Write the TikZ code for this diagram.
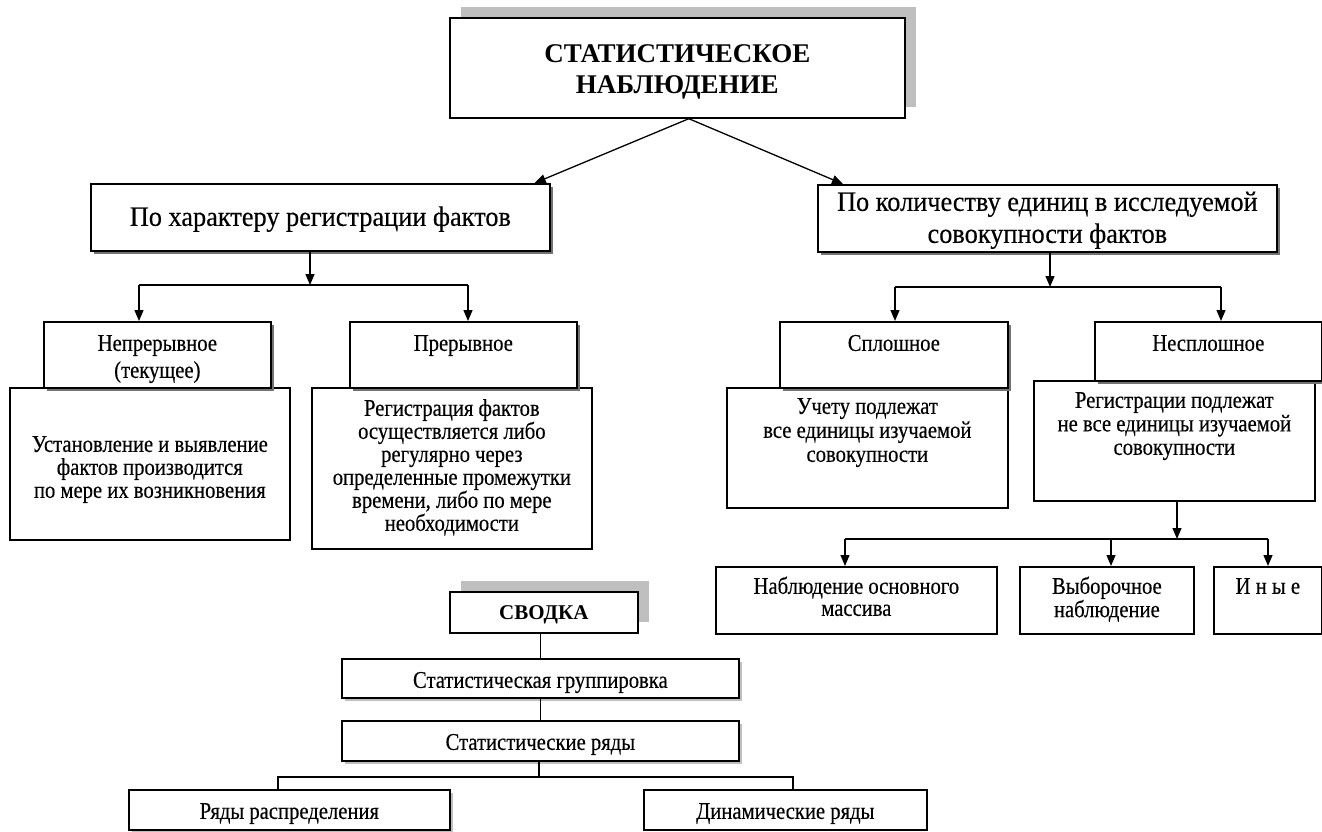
\documentclass[tikz,border=0pt]{standalone}
\usepackage{fontspec}
\setmainfont{Liberation Serif}
\newfontfamily\nf[FakeStretch=0.86,FakeBold=0.35]{Liberation Serif}
\newfontfamily\nbig[FakeStretch=0.94,FakeBold=0.3]{Liberation Serif}
\usetikzlibrary{arrows.meta,shadows}
\newcommand{\bxt}[4]{\parbox[c][#2][t]{#1}{\centering\rule{0pt}{#3}#4}}
\tikzset{
  bx/.style={draw, line width=1.7pt, fill=white, inner sep=0pt, anchor=north west},
  sh/.style={drop shadow={shadow xshift=3pt, shadow yshift=-3pt, fill=black!55, opacity=1}},
  shl/.style={drop shadow={shadow xshift=3pt, shadow yshift=-3pt, fill=black!25, opacity=1}},
  bigsh/.style={general shadow={shadow xshift=11.5pt, shadow yshift=10.5pt, fill=black!25}},
  con/.style={line width=1.3pt},
  arr/.style={con, -{Triangle[length=11pt,width=9pt]}},
  sm/.style={font=\nf\fontsize{24}{#1}\selectfont},
  big/.style={font=\nbig\fontsize{28}{#1}\selectfont},
}
\begin{document}
\begin{tikzpicture}[x=1pt,y=-1pt]
\useasboundingbox (0,0) rectangle (1322,831);

% title
\node[bx, bigsh, font=\bfseries\fontsize{27}{31}\selectfont] (top) at (449,17)
  {\bxt{455pt}{100pt}{45pt}{СТАТИСТИЧЕСКОЕ\\НАБЛЮДЕНИЕ}};

% level 1
\node[bx, sh, big=31] (lh) at (90,183)
  {\bxt{459pt}{67pt}{42pt}{По характеру регистрации фактов}};
\node[bx, sh, big=32] (rh) at (817,184)
  {\bxt{459pt}{67pt}{26pt}{По количеству единиц в исследуемой\\совокупности фактов}};

% description boxes (drawn first)
\node[bx, sm=23] (nepd) at (9,387)
  {\bxt{280pt}{152pt}{64pt}{Установление и выявление\\фактов производится\\по мере их возникновения}};
\node[bx, sm=23] (pred) at (311,387)
  {\bxt{280pt}{161pt}{28pt}{Регистрация фактов\\осуществляется либо\\регулярно через\\определенные промежутки\\времени, либо по мере\\необходимости}};
\node[bx, sm=24] (spld) at (726,387)
  {\bxt{281pt}{120pt}{26pt}{Учету подлежат\\все единицы изучаемой\\совокупности}};
\node[bx, sm=23.5] (nespld) at (1033,380)
  {\bxt{281pt}{120pt}{27pt}{Регистрации подлежат\\не все единицы изучаемой\\совокупности}};

% level 2
\node[bx, sh, sm=27] (nep) at (43,321)
  {\bxt{227pt}{66pt}{29pt}{Непрерывное\\(текущее)}};
\node[bx, sh, sm=27] (pre) at (349,321)
  {\bxt{227pt}{66pt}{29pt}{Прерывное}};
\node[bx, sh, sm=27] (spl) at (779,321)
  {\bxt{228pt}{66pt}{29pt}{Сплошное}};
\node[bx, sh, sm=27] (nespl) at (1094,321)
  {\bxt{227pt}{59pt}{29pt}{Несплошное}};

% level 3 right
\node[bx, sm=22] (osn) at (715,566)
  {\bxt{281pt}{67pt}{27pt}{Наблюдение основного\\массива}};
\node[bx, sm=22] (vyb) at (1019,566)
  {\bxt{174pt}{67pt}{27pt}{Выборочное\\наблюдение}};
\node[bx, sm=22] (iny) at (1213,566)
  {\bxt{108pt}{67pt}{27pt}{И н ы е}};

% svodka
\node[bx, bigsh, font=\bfseries\fontsize{21}{22}\selectfont] (svodka) at (449,591)
  {\bxt{188pt}{41pt}{28pt}{СВОДКА}};
\node[bx, shl, sm=22] (grp) at (341,658)
  {\bxt{397pt}{39pt}{29pt}{Статистическая группировка}};
\node[bx, shl, sm=22] (ryady) at (341,720)
  {\bxt{397pt}{40pt}{29pt}{Статистические ряды}};
\node[bx, shl, sm=22] (raspr) at (128,789)
  {\bxt{321pt}{40pt}{29pt}{Ряды распределения}};
\node[bx, sm=22] (dyn) at (643,789)
  {\bxt{283pt}{40pt}{29pt}{Динамические ряды}};

% connectors from title
\draw[arr] ([xshift=11.5pt]top.south) -- ([xshift=-16pt]lh.north east);
\draw[arr] ([xshift=11.5pt]top.south) -- ([xshift=26pt]rh.north west);

% left branch
\coordinate (b1) at (310,285);
\coordinate (b1l) at (139,285);
\coordinate (b1r) at (468,285);
\draw[arr] (lh.south -| b1) -- (b1);
\draw[con] (b1l) -- (b1r);
\draw[arr] (b1l) -- (b1l |- nep.north);
\draw[arr] (b1r) -- (b1r |- pre.north);

% right branch
\coordinate (b2) at (1050,287);
\coordinate (b2l) at (895,287);
\coordinate (b2r) at (1221,287);
\draw[arr] (rh.south -| b2) -- (b2);
\draw[con] (b2l) -- (b2r);
\draw[arr] (b2l) -- (b2l |- spl.north);
\draw[arr] (b2r) -- (b2r |- nespl.north);

% nesploshnoe branch
\coordinate (b3) at (1177,539);
\coordinate (b3l) at (845,539);
\coordinate (b3m) at (1111,539);
\coordinate (b3r) at (1268,539);
\draw[arr] (nespld.south -| b3) -- (b3);
\draw[con] (b3l) -- (b3r);
\draw[arr] (b3l) -- (b3l |- osn.north);
\draw[arr] (b3m) -- (b3m |- vyb.north);
\draw[arr] (b3r) -- (b3r |- iny.north);

% svodka branch
\draw[con] (svodka.south -| grp.north) -- (grp.north);
\draw[con] (grp.south) -- (ryady.north);
\coordinate (b4) at (539,777);
\coordinate (b4l) at (278,777);
\coordinate (b4r) at (793,777);
\draw[con] (ryady.south -| b4) -- (b4);
\draw[con] (b4l |- raspr.north) -- (b4l) -- (b4r) -- (b4r |- dyn.north);
\end{tikzpicture}
\end{document}
